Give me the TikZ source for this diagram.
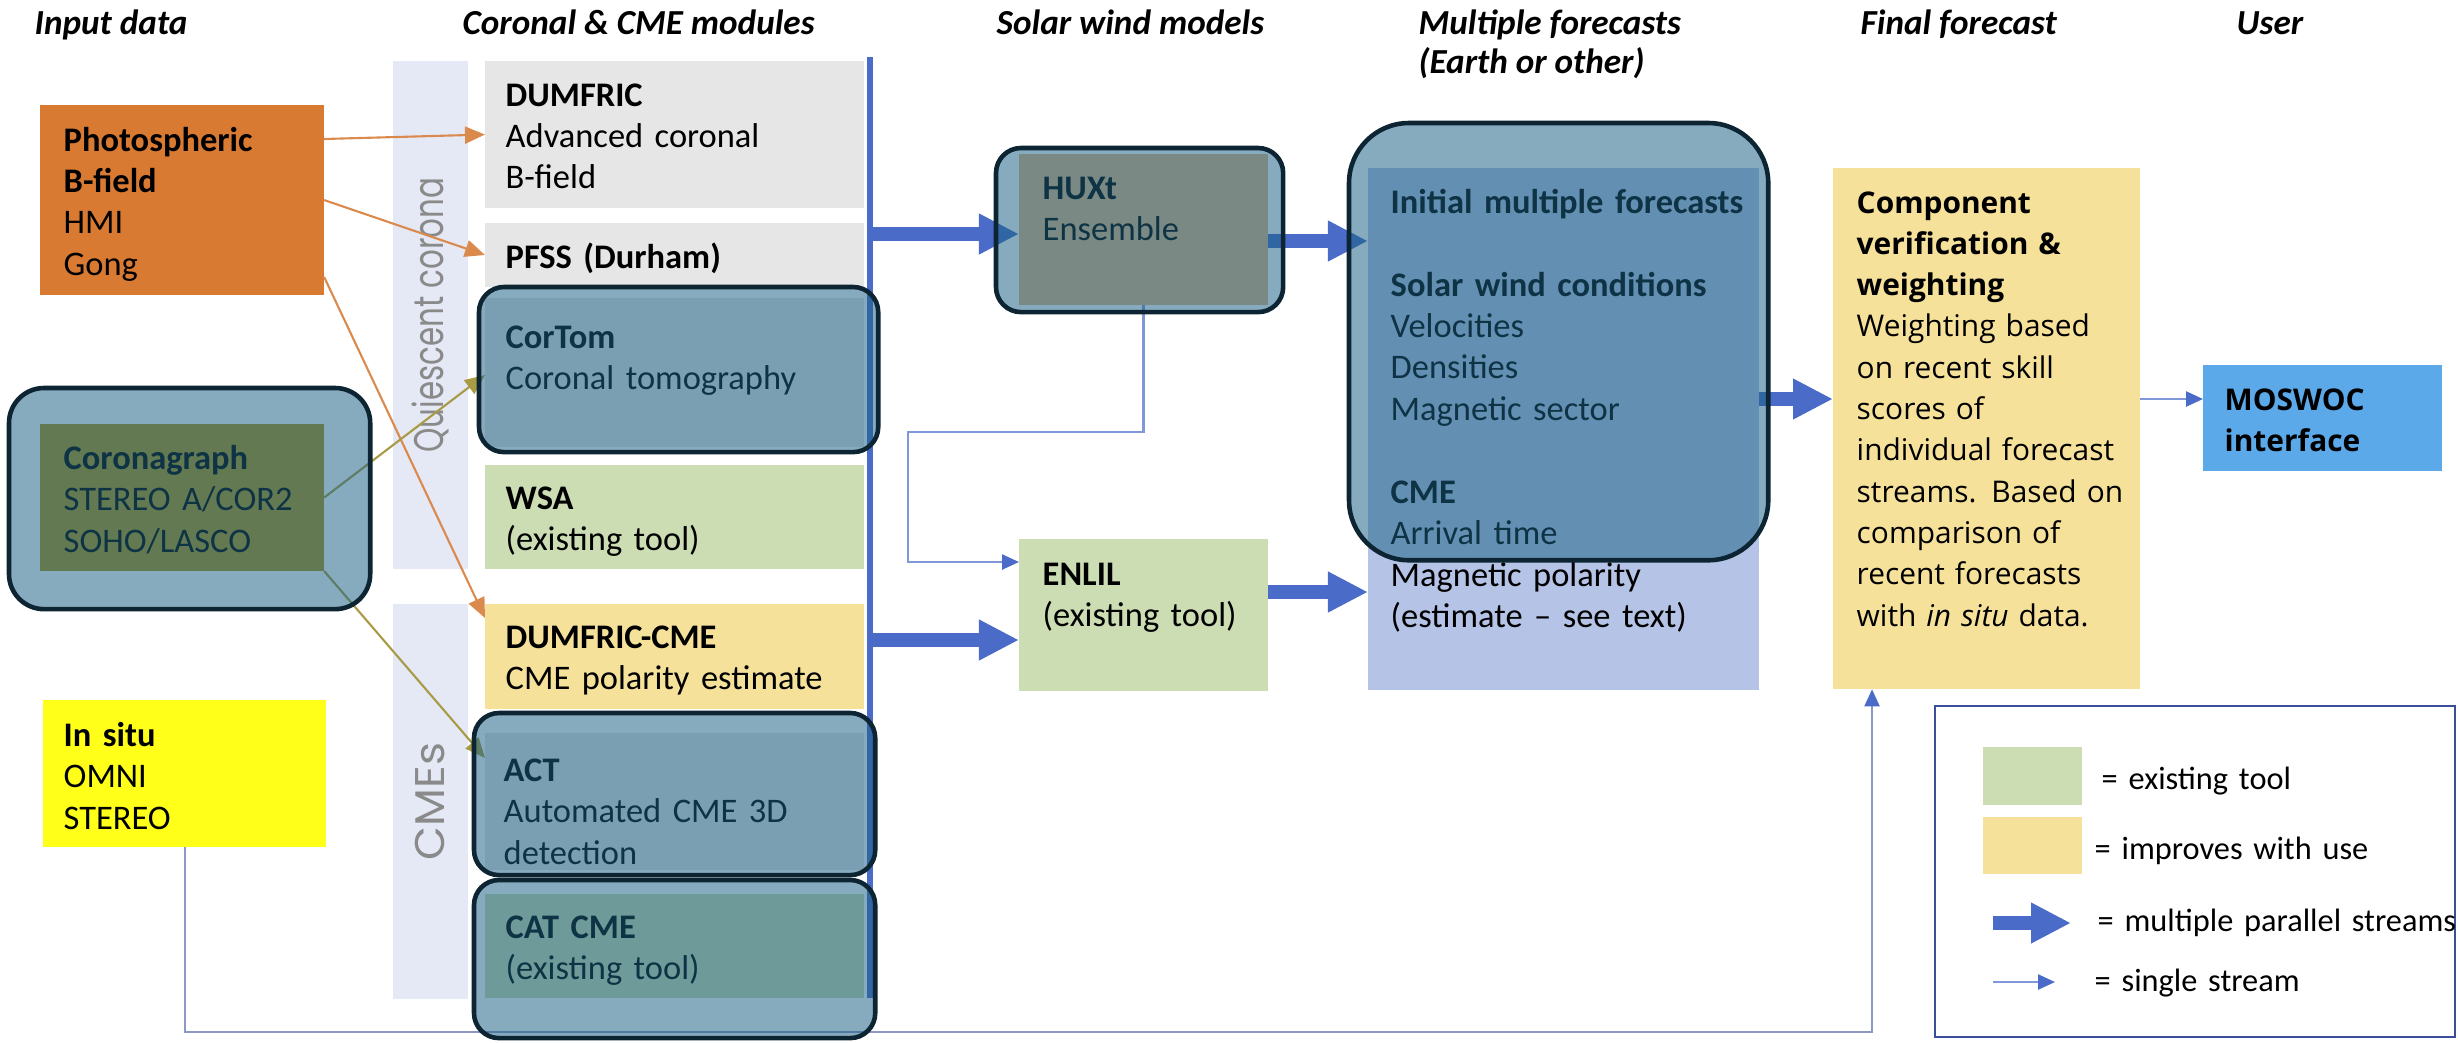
\documentclass[tikz,border=0pt]{standalone}
\usepackage{fontspec}
\setmainfont{Carlito}
\newfontfamily\osans{Open Sans}
\newfontfamily\gothic{Poppins}
\usetikzlibrary{arrows.meta,positioning,calc}

\definecolor{orng}{HTML}{D97A33}
\definecolor{gry}{HTML}{E6E6E6}
\definecolor{grn}{HTML}{CCDDB4}
\definecolor{ylw}{HTML}{F6E19B}
\definecolor{brightylw}{HTML}{FFFF1A}
\definecolor{lav}{HTML}{E5E8F5}
\definecolor{fclav}{HTML}{B4C3E6}
\definecolor{moswocblue}{HTML}{5BA9E8}
\definecolor{bus}{HTML}{4A6CC8}
\definecolor{hlfill}{HTML}{1B6184}
\definecolor{hlline}{HTML}{0D2433}
\definecolor{coroOlive}{HTML}{B4961A}
\definecolor{peach}{HTML}{E5B884}
\definecolor{arrOrng}{HTML}{DB8A4E}
\definecolor{arrOlive}{HTML}{A99B45}
\definecolor{feedline}{HTML}{8D98C4}
\definecolor{legline}{HTML}{3B4E99}
\definecolor{bandtxt}{HTML}{8A8A8A}

\newcommand{\bodyfont}{\fontsize{9.8}{11.8}\selectfont}
\newcommand{\legfont}{\fontsize{9.2}{11}\selectfont}
\newcommand{\hdrfont}{\bfseries\itshape\fontsize{10}{12}\selectfont}
\newcommand{\bandfont}{\gothic\fontsize{10}{12}\selectfont}
\newcommand{\finfont}{\osans\fontsize{8.5}{11.75}\selectfont}

\tikzset{
  box/.style={anchor=north west,inner sep=0pt,outer sep=0pt,draw=none},
  lbl/.style={anchor=base west,inner sep=0pt,align=left,text width=5cm,font=\bodyfont},
  hdr/.style={anchor=base west,inner sep=0pt,font=\hdrfont},
  hl/.style={anchor=north west,inner sep=0pt,outer sep=0pt,draw=hlline,line width=1.3pt,
    fill=hlfill,fill opacity=0.53,draw opacity=1,rounded corners=#1},
  hl/.default=0.25cm,
  fat/.style={draw=bus,line width=3.8pt,-{Triangle[length=0.4cm,width=0.38cm]}},
  single/.style={draw=bus!70,line width=0.7pt,-{Triangle[length=0.17cm,width=0.15cm,color=bus]}},
  feed/.style={draw=feedline,line width=0.6pt,-{Triangle[length=0.17cm,width=0.15cm,color=bus]}},
  orng arrow/.style={draw=arrOrng,line width=0.6pt,-{Triangle[length=0.2cm,width=0.17cm]}},
  olive arrow/.style={draw=arrOlive,line width=0.6pt,-{Triangle[length=0.2cm,width=0.17cm]}}
}

\begin{document}
\begin{tikzpicture}[x=0.01cm,y=-0.01cm]
\useasboundingbox (0,0) rectangle (2458,1042);

% column headers
\node[hdr] (hInput) at (34,34) {Input data};
\node[hdr] (hCoronal) at (462,34) {Coronal \& CME modules};
\node[hdr] (hWind) at (996,34) {Solar wind models};
\node[hdr] (hMulti) at (1418,34) {Multiple forecasts};
\node[hdr] (hEarth) at (1418,73) {(Earth or other)};
\node[hdr] (hFinal) at (1860,34) {Final forecast};
\node[hdr] (hUser) at (2236,34) {User};

% side bands
\node[box,fill=lav,minimum width=0.75cm,minimum height=5.08cm] (qband) at (393,61) {};
\node[box,fill=lav,minimum width=0.75cm,minimum height=3.95cm] (cband) at (393,604) {};
\node[rotate=90,font=\bandfont,text=bandtxt] (qlbl) at (qband.center) {\scalebox{0.88}[1.18]{Quiescent corona}};
\node[rotate=90,font=\bandfont,text=bandtxt] (clbl) at (cband.center) {\scalebox{1.25}[1.18]{CMEs}};

% input boxes
\node[box,fill=orng,minimum width=2.84cm,minimum height=1.9cm] (photo) at (40,105) {};
\node[box,fill=coroOlive,minimum width=2.84cm,minimum height=1.47cm] (coro) at (40,424) {};
\node[box,fill=brightylw,minimum width=2.83cm,minimum height=1.47cm] (insitu) at (43,700) {};

% coronal & CME modules
\node[box,fill=gry,minimum width=3.79cm,minimum height=1.47cm] (dumfric) at (485,61) {};
\node[box,fill=gry,minimum width=3.79cm,minimum height=0.64cm] (pfss) at (485,223) {};
\node[box,fill=gry,minimum width=3.79cm,minimum height=1.49cm] (cortom) at (485,298) {};
\node[box,fill=grn,minimum width=3.79cm,minimum height=1.04cm] (wsa) at (485,465) {};
\node[box,fill=ylw,minimum width=3.79cm,minimum height=1.05cm] (dcme) at (485,604) {};
\node[box,fill=gry,minimum width=3.79cm,minimum height=1.37cm] (act) at (485,733) {};
\node[box,fill=grn,minimum width=3.79cm,minimum height=1.04cm] (cat) at (485,894) {};

% solar wind models and forecasts
\node[box,fill=peach,minimum width=2.49cm,minimum height=1.51cm] (huxt) at (1019,154) {};
\node[box,fill=grn,minimum width=2.49cm,minimum height=1.52cm] (enlil) at (1019,539) {};
\node[box,fill=fclav,minimum width=3.91cm,minimum height=5.22cm] (fcbg) at (1368,168) {};
\node[box,fill=ylw,minimum width=3.07cm,minimum height=5.21cm] (final) at (1833,168) {};
\node[box,fill=moswocblue,minimum width=2.39cm,minimum height=1.06cm] (moswoc) at (2203,365) {};

% bus line
\coordinate (busTop) at (870,57);
\coordinate (busBot) at (870,998);
\draw[bus,line width=1.7pt] (busTop) -- (busBot);

% texts
\node[lbl] (photoT) at (63,151) {\textbf{Photospheric}\\\textbf{B-field}\\HMI\\Gong};
\node[lbl] (coroT) at (63,469) {\textbf{Coronagraph}\\STEREO A/COR2\\SOHO/LASCO};
\node[lbl] (insituT) at (63,746) {\textbf{In situ}\\OMNI\\STEREO};
\node[lbl] (dumfricT) at (505,106) {\textbf{DUMFRIC}\\Advanced coronal\\B-field};
\node[lbl] (pfssT) at (505,268) {\textbf{PFSS (Durham)}};
\node[lbl] (cortomT) at (505,348) {\textbf{CorTom}\\Coronal tomography};
\node[lbl] (wsaT) at (505,509) {\textbf{WSA}\\(existing tool)};
\node[lbl] (dcmeT) at (505,648) {\textbf{DUMFRIC-CME}\\CME polarity estimate};
\node[lbl] (actT) at (503,781) {\textbf{ACT}\\Automated CME 3D\\detection};
\node[lbl] (catT) at (505,938) {\textbf{CAT CME}\\(existing tool)};
\node[lbl] (huxtT) at (1042,199) {\textbf{HUXt}\\Ensemble};
\node[lbl] (enlilT) at (1042,585) {\textbf{ENLIL}\\(existing tool)};
\node[lbl] (fcT) at (1390,213) {\textbf{Initial multiple forecasts}\\~\\\textbf{Solar wind conditions}\\Velocities\\Densities\\Magnetic sector\\~\\\textbf{CME}\\Arrival time\\Magnetic polarity\\(estimate -- see text)};
\node[lbl,font=\finfont] (finalT) at (1856,213) {\textbf{Component}\\\textbf{verification \&}\\\textbf{weighting}\\Weighting based\\on recent skill\\scores of\\individual forecast\\streams. Based on\\comparison of\\recent forecasts\\with \textit{in situ} data.};
\node[lbl,font=\finfont\bfseries] (moswocT) at (2224,410) {MOSWOC\\interface};

% input arrows
\draw[orng arrow] (photo.east |- 0,139) -- (dumfric.west);
\draw[orng arrow] (photo.east) -- (pfss.west);
\draw[orng arrow] (photo.east |- 0,277) -- (dcme.west |- 0,618);
\draw[olive arrow] (coro.east) -- (cortom.west |- 0,375);
\draw[olive arrow] (coro.south east) -- (act.west |- 0,758);

% streams
\draw[fat] (busTop |- 0,234) -- (huxt.west |- 0,234);
\draw[fat] (huxt.east |- 0,241) -- (fcbg.west |- 0,241);
\draw[fat] (busTop |- 0,640) -- (enlil.west |- 0,640);
\draw[fat] (enlil.east |- 0,592) -- (fcbg.west |- 0,592);
\draw[fat] (fcbg.east |- 0,399) -- (final.west |- 0,399);
\coordinate (hbend) at (908,432);
\draw[single] (huxt.south) |- (hbend) |- (enlil.west |- 0,562);
\draw[single] (final.east |- 0,399) -- (moswoc.west |- 0,399);
\coordinate (feedTurn) at (1872,1032);
\draw[feed] (insitu.south) |- (feedTurn) -- (feedTurn |- final.south);

% highlighted modules
\node[hl=0.35cm,minimum width=3.61cm,minimum height=2.21cm] (coroHL) at (9,388) {};
\node[hl,minimum width=3.99cm,minimum height=1.65cm] (cortomHL) at (479,287) {};
\node[hl,minimum width=4.01cm,minimum height=1.62cm] (actHL) at (474,713) {};
\node[hl,minimum width=4.01cm,minimum height=1.58cm] (catHL) at (474,880) {};
\node[hl,minimum width=2.87cm,minimum height=1.64cm] (huxtHL) at (996,148) {};
\node[hl=0.6cm,minimum width=4.19cm,minimum height=4.37cm] (fcHL) at (1349,123) {};

% legend
\node[box,draw=legline,line width=0.6pt,minimum width=5.2cm,minimum height=3.31cm] (legend) at (1935,706) {};
\node[box,fill=grn,minimum width=0.99cm,minimum height=0.58cm] (legGrn) at (1983,747) {};
\node[box,fill=ylw,minimum width=0.99cm,minimum height=0.57cm] (legYlw) at (1983,817) {};
\coordinate (legFatA) at (1993,923);
\coordinate (legFatB) at (2071,923);
\coordinate (legThinA) at (1993,982);
\coordinate (legThinB) at (2055,982);
\draw[fat] (legFatA) -- (legFatB);
\draw[single] (legThinA) -- (legThinB);
\node[lbl,font=\legfont] (legT1) at (2101,789) {= existing tool};
\node[lbl,font=\legfont] (legT2) at (2094,859) {= improves with use};
\node[lbl,font=\legfont] (legT3) at (2097,931) {= multiple parallel streams};
\node[lbl,font=\legfont] (legT4) at (2094,991) {= single stream};
\end{tikzpicture}
\end{document}
